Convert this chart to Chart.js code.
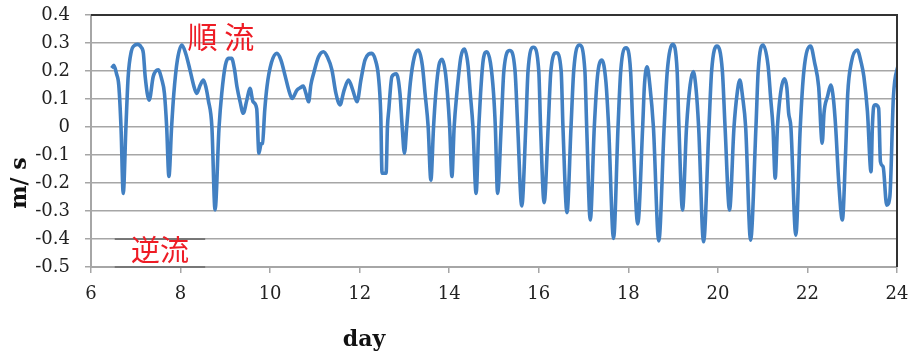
<!DOCTYPE html>
<html>
<head>
<meta charset="utf-8">
<script src="https://cdn.jsdelivr.net/npm/chart.js"></script>
<style>
  body { margin: 0; background: #fff; }
  #wrap { width: 912px; height: 354px; }
</style>
</head>
<body>
<div id="wrap"><canvas id="velocityChart" width="912" height="354"></canvas></div>
<script>
const days = [
    6.46, 6.51, 6.57, 6.62, 6.67, 6.72, 6.78, 6.83, 6.90, 6.96, 7.04, 7.12, 7.17, 7.21, 7.30, 7.39,
    7.50, 7.58, 7.64, 7.69, 7.74, 7.80, 7.85, 7.93, 8.03, 8.12, 8.21, 8.29, 8.36, 8.44, 8.51, 8.57,
    8.62, 8.70, 8.77, 8.86, 8.92, 9.00, 9.07, 9.14, 9.20, 9.26, 9.33, 9.40, 9.48, 9.55, 9.62, 9.70,
    9.75, 9.80, 9.83, 9.88, 9.93, 10.03, 10.15, 10.24, 10.34, 10.42, 10.49, 10.60, 10.67, 10.74, 10.80, 10.86,
    10.91, 10.97, 11.08, 11.19, 11.28, 11.38, 11.47, 11.56, 11.65, 11.75, 11.85, 11.94, 12.03, 12.12, 12.27, 12.35,
    12.42, 12.47, 12.50, 12.59, 12.62, 12.65, 12.72, 12.82, 12.90, 12.95, 13.00, 13.05, 13.13, 13.22, 13.31, 13.40,
    13.46, 13.53, 13.59, 13.65, 13.70, 13.77, 13.84, 13.91, 13.96, 14.01, 14.06, 14.11, 14.17, 14.26, 14.34, 14.42,
    14.47, 14.53, 14.60, 14.66, 14.70, 14.76, 14.84, 14.92, 14.99, 15.03, 15.08, 15.16, 15.22, 15.35, 15.47, 15.53,
    15.62, 15.71, 15.76, 15.88, 16.00, 16.04, 16.12, 16.21, 16.27, 16.39, 16.50, 16.54, 16.63, 16.72, 16.78, 16.91,
    17.03, 17.07, 17.15, 17.24, 17.31, 17.41, 17.50, 17.56, 17.67, 17.77, 17.83, 17.95, 18.05, 18.10, 18.21, 18.32,
    18.36, 18.42, 18.48, 18.56, 18.68, 18.80, 18.87, 18.99, 19.09, 19.13, 19.21, 19.30, 19.38, 19.45, 19.51, 19.57,
    19.68, 19.80, 19.86, 19.98, 20.10, 20.16, 20.26, 20.36, 20.43, 20.49, 20.55, 20.62, 20.73, 20.85, 20.90, 21.01,
    21.12, 21.18, 21.23, 21.28, 21.33, 21.37, 21.43, 21.49, 21.54, 21.58, 21.63, 21.74, 21.84, 21.92, 22.07, 22.16,
    22.25, 22.33, 22.37, 22.45, 22.52, 22.58, 22.63, 22.70, 22.78, 22.85, 22.90, 22.98, 23.11, 23.20, 23.26, 23.34,
    23.42, 23.45, 23.48, 23.52, 23.59, 23.63, 23.69, 23.77, 23.84, 23.92, 24.03
];
const velocity = [
    0.21, 0.22, 0.19, 0.15, 0.0, -0.237, 0.0, 0.18, 0.27, 0.29, 0.295, 0.285, 0.263, 0.18, 0.096, 0.18,
    0.204, 0.17, 0.12, 0.0, -0.177, 0.0, 0.12, 0.24, 0.293, 0.26, 0.204, 0.15, 0.12, 0.15, 0.168, 0.14,
    0.096, 0.0, -0.296, 0.0, 0.12, 0.22, 0.245, 0.245, 0.21, 0.144, 0.09, 0.049, 0.096, 0.138, 0.09, 0.066,
    -0.094, -0.06, -0.058, 0.06, 0.144, 0.23, 0.263, 0.24, 0.18, 0.13, 0.102, 0.132, 0.14, 0.146, 0.12, 0.09,
    0.15, 0.19, 0.25, 0.269, 0.25, 0.204, 0.12, 0.079, 0.13, 0.168, 0.13, 0.09, 0.17, 0.24, 0.263, 0.24,
    0.18, 0.05, -0.165, -0.165, 0.0, 0.06, 0.18, 0.19, 0.12, 0.0, -0.094, 0.0, 0.156, 0.25, 0.275, 0.22,
    0.12, 0.0, -0.19, 0.0, 0.12, 0.22, 0.242, 0.2, 0.12, 0.0, -0.177, 0.0, 0.12, 0.25, 0.278, 0.22,
    0.12, 0.0, -0.237, 0.0, 0.12, 0.24, 0.269, 0.23, 0.12, 0.0, -0.237, 0.0, 0.2, 0.273, 0.2, 0.0,
    -0.282, 0.0, 0.2, 0.285, 0.2, 0.0, -0.27, 0.0, 0.2, 0.265, 0.2, 0.0, -0.306, 0.0, 0.2, 0.293,
    0.2, 0.0, -0.332, 0.0, 0.18, 0.239, 0.16, 0.0, -0.398, 0.0, 0.2, 0.283, 0.2, 0.0, -0.346, 0.0,
    0.15, 0.215, 0.15, 0.0, -0.407, 0.0, 0.2, 0.295, 0.2, 0.0, -0.296, 0.0, 0.15, 0.198, 0.14, 0.0,
    -0.41, 0.0, 0.2, 0.289, 0.2, 0.0, -0.296, 0.0, 0.12, 0.168, 0.11, 0.0, -0.404, 0.0, 0.2, 0.293,
    0.22, 0.1, 0.0, -0.183, 0.0, 0.08, 0.15, 0.172, 0.14, 0.05, 0.0, -0.386, 0.0, 0.2, 0.289, 0.23,
    0.144, -0.058, 0.05, 0.11, 0.15, 0.1, 0.0, -0.2, -0.332, -0.1, 0.12, 0.23, 0.275, 0.23, 0.18, 0.055,
    -0.16, 0.0, 0.072, 0.079, 0.067, -0.124, -0.142, -0.279, -0.249, 0.108, 0.227
];
const xTicks = [6, 8, 10, 12, 14, 16, 18, 20, 22, 24];
const yTicks = [-0.5, -0.4, -0.3, -0.2, -0.1, 0, 0.1, 0.2, 0.3, 0.4];
const yTickLabels = ['-0.5', '-0.4', '-0.3', '-0.2', '-0.1', '0', '0.1', '0.2', '0.3', '0.4'];

const serif = '"DejaVu Serif", "Liberation Serif", serif';
const cjk = '"Noto Sans CJK JP", "Noto Sans CJK SC", sans-serif';

// frame, text boxes, titles and the two flow labels
const decorPlugin = {
    id: 'decor',
    afterDatasetsDraw(chart) {
        const c = chart.ctx;
        const a = chart.chartArea;
        const xs = chart.scales.x, ys = chart.scales.y;
        c.save();
        // dark frame on top and right
        c.strokeStyle = '#333';
        c.lineWidth = 2;
        c.beginPath();
        c.moveTo(a.left, a.top);
        c.lineTo(a.right, a.top);
        c.lineTo(a.right, a.bottom);
        c.stroke();

        // edges of the "逆流" text box
        c.strokeStyle = '#777';
        c.lineWidth = 2;
        const bx0 = xs.getPixelForValue(6.53), bx1 = xs.getPixelForValue(8.55);
        [-0.4, -0.5].forEach(v => {
            const y = ys.getPixelForValue(v);
            c.beginPath();
            c.moveTo(bx0, y);
            c.lineTo(bx1, y);
            c.stroke();
        });

        c.fillStyle = '#ee1c25';
        c.textAlign = 'center';
        c.textBaseline = 'middle';
        c.font = '30px ' + cjk;
        c.fillText('順 流', xs.getPixelForValue(8.9), ys.getPixelForValue(0.322));
        c.font = '29px ' + cjk;
        c.fillText('逆流', xs.getPixelForValue(7.54), ys.getPixelForValue(-0.44));

        // axis titles
        c.fillStyle = '#111';
        c.font = 'bold 22px ' + serif;
        c.fillText('day', 364, 340);
        c.translate(20, 183);
        c.rotate(-Math.PI / 2);
        c.fillText('m/ s', 0, 0);
        c.restore();
    }
};

const ctx = document.getElementById('velocityChart').getContext('2d');
const velocityChart = new Chart(ctx, {
    type: 'line',
    data: {
        datasets: [{
            label: 'velocity',
            data: days.map((d, i) => ({ x: d, y: velocity[i] })),
            borderColor: '#4280c2',
            borderWidth: 3.6,
            pointRadius: 0,
            fill: false,
            cubicInterpolationMode: 'monotone'
        }]
    },
    options: {
        responsive: false,
        animation: false,
        devicePixelRatio: 1,
        layout: { padding: { left: 0, top: 15, right: 15, bottom: 0 } },
        plugins: {
            legend: { display: false },
            tooltip: { enabled: false }
        },
        scales: {
            x: {
                type: 'linear',
                min: 6,
                max: 24,
                afterBuildTicks: s => { s.ticks = xTicks.map(v => ({ value: v })); },
                afterFit: s => { s.height = 87; s.paddingLeft = 0; s.paddingRight = 0; },
                grid: { drawOnChartArea: false, color: '#a6a6a6', lineWidth: 1.5, tickLength: 6 },
                border: { color: '#a6a6a6', width: 2 },
                ticks: {
                    padding: 11,
                    color: '#222',
                    font: { family: serif, size: 18 },
                    maxRotation: 0
                }
            },
            y: {
                min: -0.5,
                max: 0.4,
                afterBuildTicks: s => { s.ticks = yTicks.map(v => ({ value: v })); },
                afterFit: s => { s.width = 91; s.paddingTop = 0; s.paddingBottom = 0; },
                grid: { color: '#a6a6a6', lineWidth: 1.5, tickLength: 6 },
                border: { color: '#a6a6a6', width: 2 },
                ticks: {
                    padding: 15,
                    color: '#222',
                    font: { family: serif, size: 18 },
                    callback: (value, index) => yTickLabels[index]
                }
            }
        }
    },
    plugins: [decorPlugin]
});
</script>
</body>
</html>
